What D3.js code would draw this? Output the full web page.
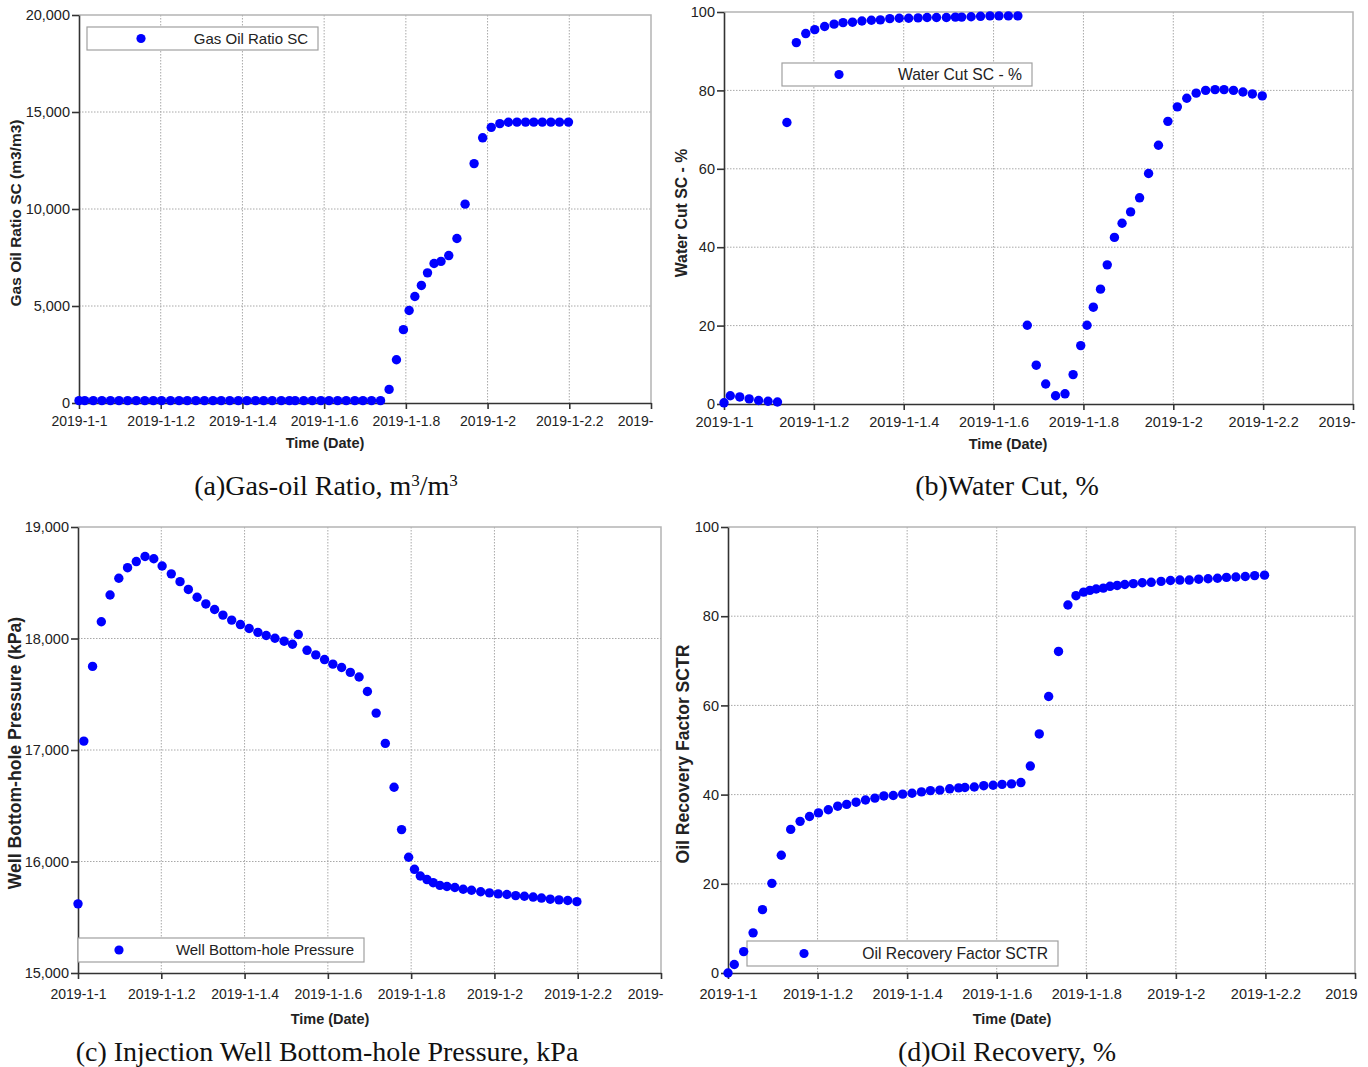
<!DOCTYPE html>
<html>
<head>
<meta charset="utf-8">
<script src="https://cdn.jsdelivr.net/npm/d3@7"></script>
<style>
  body { margin: 0; background: #fff; }
  svg { display: block; }
  .tick text { fill: #222; }
</style>
</head>
<body>
<svg width="1368" height="1067"></svg>
<script>
// simulation output times (fraction of the day axis)
const times = [1.000, 1.014, 1.035, 1.056, 1.077, 1.098, 1.119, 1.140, 1.161, 1.182,
  1.202, 1.224, 1.245, 1.265, 1.286, 1.307, 1.328, 1.348, 1.369, 1.390,
  1.411, 1.432, 1.452, 1.473, 1.495, 1.515, 1.529, 1.550, 1.571, 1.592,
  1.612, 1.633, 1.654, 1.675, 1.695, 1.716, 1.738, 1.759, 1.777, 1.794,
  1.808, 1.822, 1.838, 1.853, 1.869, 1.886, 1.905, 1.925, 1.945, 1.967,
  1.988, 2.009, 2.030, 2.051, 2.072, 2.093, 2.113, 2.134, 2.155, 2.176, 2.198];

const gasOilRatio = [120, 120, 120, 120, 120, 120, 120, 120, 120, 120,
  120, 120, 120, 120, 120, 120, 120, 120, 120, 120,
  120, 120, 120, 120, 120, 120, 120, 120, 120, 120,
  120, 120, 120, 120, 120, 120, 120, 700, 2230, 3780,
  4770, 5490, 6060, 6710, 7190, 7300, 7600, 8480, 10250, 12340,
  13670, 14210, 14400, 14470, 14480, 14480, 14480, 14480, 14480, 14480, 14480];

const waterCut = [0.3, 2.1, 1.8, 1.3, 0.9, 0.7, 0.5, 71.8, 92.2, 94.5,
  95.5, 96.3, 96.9, 97.3, 97.4, 97.7, 97.9, 98.0, 98.3, 98.4,
  98.4, 98.5, 98.6, 98.6, 98.6, 98.7, 98.7, 98.8, 98.9, 99.0,
  99.0, 99.0, 99.0, 20.1, 9.9, 5.1, 2.1, 2.6, 7.5, 14.9,
  20.1, 24.7, 29.3, 35.5, 42.5, 46.1, 49.0, 52.6, 58.8, 66.0,
  72.1, 75.8, 78.0, 79.3, 80.0, 80.2, 80.2, 80.0, 79.6, 79.1, 78.6];

const bottomHolePressure = [15620, 17080, 17750, 18150, 18390, 18540, 18635, 18690, 18735, 18715,
  18650, 18580, 18510, 18440, 18370, 18310, 18260, 18210, 18165, 18125,
  18090, 18055, 18027, 18002, 17976, 17948, 18036, 17894, 17853, 17811,
  17770, 17740, 17696, 17655, 17525, 17331, 17059, 16666, 16286, 16038,
  15930, 15870, 15838, 15810, 15786, 15776, 15767, 15751, 15742, 15729,
  15719, 15710, 15704, 15694, 15688, 15681, 15672, 15662, 15656, 15650, 15640];

const oilRecovery = [0, 1.9, 4.8, 9.0, 14.2, 20.1, 26.4, 32.2, 34.0, 35.1,
  35.9, 36.6, 37.4, 37.8, 38.3, 38.8, 39.2, 39.7, 39.8, 40.1,
  40.3, 40.6, 40.9, 41.0, 41.3, 41.5, 41.6, 41.7, 42.0, 42.1,
  42.3, 42.4, 42.7, 46.4, 53.6, 62.0, 72.1, 82.5, 84.6, 85.4,
  85.8, 86.1, 86.3, 86.7, 86.9, 87.1, 87.3, 87.5, 87.6, 87.8,
  88.0, 88.1, 88.1, 88.3, 88.4, 88.5, 88.7, 88.8, 88.9, 89.1, 89.2];

const xTicks = [1, 1.2, 1.4, 1.6, 1.8, 2, 2.2, 2.4];
const xTickLabels = ["2019-1-1", "2019-1-1.2", "2019-1-1.4", "2019-1-1.6",
  "2019-1-1.8", "2019-1-2", "2019-1-2.2"];
// the last label is cut by the frame in the source image
const edgeLabels = ["2019-", "2019-", "2019-", "2019"];

const gorTicks = [0, 5000, 10000, 15000, 20000];
const percentTicks = [0, 20, 40, 60, 80, 100];
const pressureTicks = [15000, 16000, 17000, 18000, 19000];

const panels = [
  { id: "a", values: gasOilRatio, left: 79, right: 651, top: 15, bottom: 403,
    yDomain: [0, 20000], yTicks: gorTicks, fmt: d3.format(","), pad: 7, fx: 14, fl: 15, ft: 15.5,
    yTitle: "Gas Oil Ratio SC (m3/m3)", yTitleX: 16, yTitleY: 213, xTitleX: 325, xTitleY: 448,
    legend: "Gas Oil Ratio SC", lg: { x0: 87, x1: 318, y0: 27, y1: 50, dot: 141 } },
  { id: "b", values: waterCut, left: 724, right: 1353, top: 12, bottom: 404,
    yDomain: [0, 100], yTicks: percentTicks, fmt: d3.format("d"), pad: 7, fx: 14.5, fl: 15.7, ft: 15.8,
    yTitle: "Water Cut SC - %", yTitleX: 681, yTitleY: 213, xTitleX: 1008, xTitleY: 449,
    legend: "Water Cut SC - %", lg: { x0: 782, x1: 1032, y0: 63, y1: 86, dot: 839 } },
  { id: "c", values: bottomHolePressure, left: 78, right: 661, top: 527, bottom: 973,
    yDomain: [15000, 19000], yTicks: pressureTicks, fmt: d3.format(","), pad: 10, fx: 14, fl: 15, ft: 17.6,
    yTitle: "Well Bottom-hole Pressure (kPa)", yTitleX: 15, yTitleY: 753, xTitleX: 330, xTitleY: 1024,
    legend: "Well Bottom-hole Pressure", lg: { x0: 78, x1: 364, y0: 938, y1: 962, dot: 119 } },
  { id: "d", values: oilRecovery, left: 728, right: 1355, top: 527, bottom: 973,
    yDomain: [0, 100], yTicks: percentTicks, fmt: d3.format("d"), pad: 10, fx: 14.5, fl: 15.7, ft: 17.6,
    yTitle: "Oil Recovery Factor SCTR", yTitleX: 683, yTitleY: 754, xTitleX: 1012, xTitleY: 1024,
    legend: "Oil Recovery Factor SCTR", lg: { x0: 747, x1: 1058, y0: 941, y1: 966, dot: 804 } },
];

const svg = d3.select("svg");
const sans = "Arial, 'Liberation Sans', sans-serif";

panels.forEach((p, pi) => {
  const x = d3.scaleLinear().domain([1, 2.4]).range([p.left, p.right]);
  const y = d3.scaleLinear().domain(p.yDomain).range([p.bottom, p.top]);
  const g = svg.append("g").attr("class", "panel-" + p.id);
  const labels = xTickLabels.concat([edgeLabels[pi]]);

  // dotted grid
  g.selectAll(".vgrid").data(xTicks.slice(1, -1)).enter().append("line")
    .attr("x1", (d) => x(d)).attr("x2", (d) => x(d))
    .attr("y1", p.top).attr("y2", p.bottom)
    .attr("stroke", "#a8a8a8").attr("stroke-width", 1).attr("stroke-dasharray", "1.5,1.5");
  g.selectAll(".hgrid").data(p.yTicks.slice(1, -1)).enter().append("line")
    .attr("x1", p.left).attr("x2", p.right)
    .attr("y1", (d) => y(d)).attr("y2", (d) => y(d))
    .attr("stroke", "#a8a8a8").attr("stroke-width", 1).attr("stroke-dasharray", "1.5,1.5");

  // top and right frame
  g.append("path")
    .attr("d", `M${p.left},${p.top}H${p.right}V${p.bottom}`)
    .attr("fill", "none").attr("stroke", "#b4b4b4").attr("stroke-width", 1.5);

  // axes
  const xAxis = g.append("g").attr("transform", `translate(0,${p.bottom})`)
    .call(d3.axisBottom(x).tickValues(xTicks).tickFormat((d, i) => labels[i])
      .tickSize(6).tickSizeOuter(0).tickPadding(p.pad));
  xAxis.selectAll("text").attr("font-size", p.fx + "px").attr("font-family", sans);
  xAxis.selectAll(".tick:last-of-type text").attr("text-anchor", "end").attr("x", 2);
  xAxis.selectAll("line, path").attr("stroke", "#333").attr("stroke-width", 1.6);

  const yAxis = g.append("g").attr("transform", `translate(${p.left},0)`)
    .call(d3.axisLeft(y).tickValues(p.yTicks).tickFormat(p.fmt)
      .tickSize(7).tickSizeOuter(0).tickPadding(2));
  yAxis.selectAll("text").attr("font-size", "14.5px").attr("font-family", sans);
  yAxis.selectAll("line, path").attr("stroke", "#333").attr("stroke-width", 1.6);

  // axis titles
  g.append("text")
    .attr("transform", `translate(${p.yTitleX},${p.yTitleY}) rotate(-90)`)
    .attr("dy", "0.35em").attr("text-anchor", "middle")
    .attr("font-family", sans).attr("font-weight", "bold").attr("font-size", p.ft + "px")
    .attr("fill", "#222").text(p.yTitle);
  g.append("text")
    .attr("x", p.xTitleX).attr("y", p.xTitleY).attr("text-anchor", "middle")
    .attr("font-family", sans).attr("font-weight", "bold").attr("font-size", "14.5px")
    .attr("fill", "#222").text("Time (Date)");

  // legend box
  const lg = p.lg;
  const lgMid = (lg.y0 + lg.y1) / 2;
  g.append("rect")
    .attr("x", lg.x0).attr("y", lg.y0).attr("width", lg.x1 - lg.x0).attr("height", lg.y1 - lg.y0)
    .attr("fill", "#fff").attr("stroke", "#a0a0a0").attr("stroke-width", 1.2);
  g.append("circle").attr("cx", lg.dot).attr("cy", lgMid).attr("r", 4.6).attr("fill", "#0000ff");
  g.append("text")
    .attr("x", lg.x1 - 10).attr("y", lgMid).attr("dy", "0.35em").attr("text-anchor", "end")
    .attr("font-family", sans).attr("font-size", p.fl + "px").attr("fill", "#222").text(p.legend);

  // points
  g.selectAll(".pt").data(p.values).enter().append("circle")
    .attr("class", "pt")
    .attr("cx", (d, i) => x(times[i]))
    .attr("cy", (d) => y(d))
    .attr("r", 4.7)
    .attr("fill", "#0000ff");
});

// captions
const serif = "'Times New Roman', 'Liberation Serif', serif";
function caption(cx, cy, parts) {
  const t = svg.append("text").attr("x", cx).attr("y", cy).attr("text-anchor", "middle")
    .attr("font-family", serif).attr("font-size", "28px").attr("fill", "#111");
  parts.forEach((part) => {
    const s = t.append("tspan").text(part.text);
    if (part.sup) s.attr("font-size", "17px").attr("baseline-shift", "super");
  });
}
caption(326, 495, [{ text: "(a)Gas-oil Ratio, m" }, { text: "3", sup: true }, { text: "/m" }, { text: "3", sup: true }]);
caption(1007, 495, [{ text: "(b)Water Cut, %" }]);
caption(327, 1061, [{ text: "(c) Injection Well Bottom-hole Pressure, kPa" }]);
caption(1007, 1061, [{ text: "(d)Oil Recovery, %" }]);
</script>
</body>
</html>
